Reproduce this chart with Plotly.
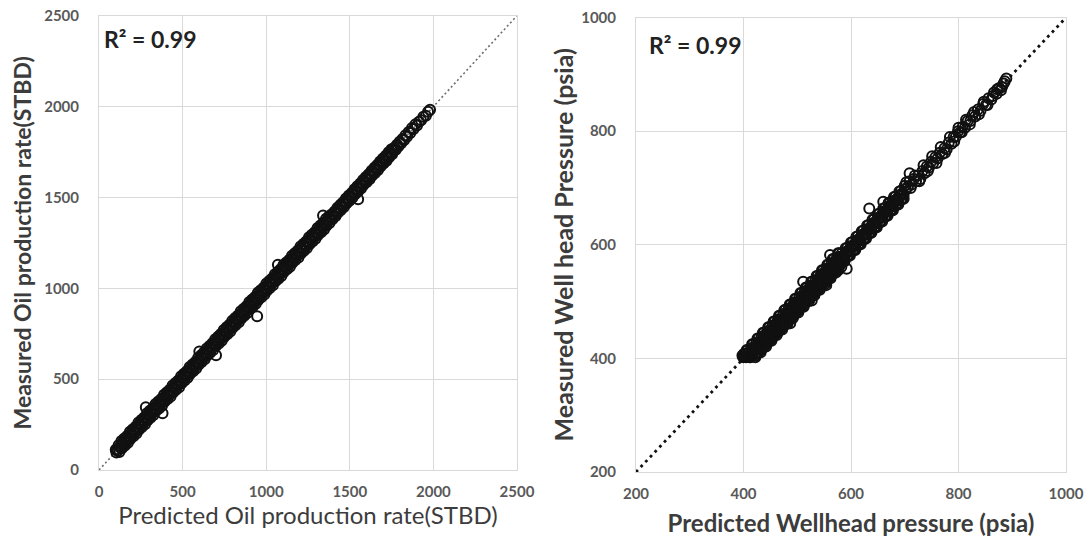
import plotly.graph_objects as go

# ---------------- data ----------------
# Left panel: oil production rate (STBD) - predicted vs measured
pred_oil = [
    100,104,108,112, 117,122,126,130, 134,137,141,145, 151,155,159,163, 168,173,177,181,
    185,188,192,196, 202,206,210,214, 219,224,228,232, 236,239,243,247, 253,257,261,265,
    270,275,279,283, 287,290,294,298, 304,308,312,316, 321,326,330,334, 338,341,345,349,
    355,359,363,367, 372,377,381,385, 389,392,396,400, 406,410,414,418, 423,428,432,436,
    440,443,447,451, 457,461,465,469, 474,479,483,487, 491,494,498,502, 508,512,516,520,
    525,530,534,538, 542,545,549,553, 559,563,567,571, 576,581,585,589, 593,596,600,604,
    610,614,618,622, 627,632,636,640, 644,647,651,655, 661,665,669,673, 678,683,687,691,
    695,698,702,706, 712,716,720,724, 729,734,738,742, 746,749,753,757, 763,767,771,775,
    780,785,789,793, 797,800,804,808, 814,818,822,826, 831,836,840,844, 848,851,855,859,
    865,869,873,877, 882,887,891,895, 899,902,906,910, 916,920,924,928, 933,938,942,946,
    950,953,957,961, 967,971,975,979, 984,989,993,997, 1001,1004,1008,1012, 1018,1022,1026,1030,
    1035,1040,1044,1048, 1052,1055,1059,1063, 1069,1073,1077,1081, 1086,1091,1095,1099, 1103,1106,1110,1114,
    1120,1124,1128,1132, 1137,1142,1146,1150, 1154,1157,1161,1165, 1171,1175,1179,1183, 1188,1193,1197,1201,
    1205,1208,1212,1216, 1222,1226,1230,1234, 1239,1244,1248,1252, 1256,1259,1263,1267, 1273,1277,1281,1285,
    1290,1295,1299,1303, 1307,1310,1314,1318, 1324,1328,1332,1336, 1341,1346,1350,1354, 1358,1361,1365,1369,
    1375,1379,1383,1387, 1392,1396,1400,1404, 1409,1414,1418,1422, 1426,1429,1433,1437, 1443,1447,1451,1455,
    1460,1465,1469,1473, 1477,1480,1484,1488, 1494,1498,1502,1506, 1511,1516,1520,1524, 1528,1531,1535,1539,
    1545,1549,1553,1557, 1562,1567,1571,1575, 1579,1582,1586,1590, 1596,1600,1604,1608, 1613,1618,1622,1626,
    1630,1633,1637,1641, 1647,1651,1655,1659, 1664,1669,1673,1677, 1681,1684,1688,1692, 1698,1702,1706,1710,
    1715,1720,1724,1728, 1732,1735,1739,1743, 1749,1753,1757,1761,
    1768,1775,1782,1790,1798,1806,1815,1824,1833,1842,1852,1862,1872,1882,1892,1902,1914,1926,1940,1955,
    1968,1980,
    280,380,600,700,946,1070,1340,1550]
meas_oil = [
    112,96,114,106, 136,99,131,121, 159,120,152,142, 173,135,167,157, 187,150,182,172,
    210,171,203,193, 224,186,218,208, 238,201,233,223, 261,222,254,244, 275,237,269,259,
    289,252,284,274, 312,273,305,295, 326,288,320,310, 340,303,335,325, 363,324,356,346,
    377,339,371,361, 391,354,386,376, 414,375,407,397, 428,390,422,412, 442,405,437,427,
    465,426,458,448, 479,441,473,463, 493,456,488,478, 516,477,509,499, 530,492,524,514,
    544,507,539,529, 567,528,560,550, 581,543,575,565, 595,558,590,580, 618,579,611,601,
    632,594,626,616, 646,609,641,631, 669,630,662,652, 683,645,677,667, 697,660,692,682,
    720,681,713,703, 734,696,728,718, 748,711,743,733, 771,732,764,754, 785,747,779,769,
    799,762,794,784, 822,783,815,805, 836,798,830,820, 850,813,845,835, 873,834,866,856,
    887,849,881,871, 901,864,896,886, 924,885,917,907, 938,900,932,922, 952,915,947,937,
    975,936,968,958, 989,951,983,973, 1003,966,998,988, 1026,987,1019,1009, 1040,1002,1034,1024,
    1054,1017,1049,1039, 1077,1038,1070,1060, 1091,1053,1085,1075, 1105,1068,1100,1090, 1128,1089,1121,1111,
    1142,1104,1136,1126, 1156,1119,1151,1141, 1179,1140,1172,1162, 1193,1155,1187,1177, 1207,1170,1202,1192,
    1230,1191,1223,1213, 1244,1206,1238,1228, 1258,1221,1253,1243, 1281,1242,1274,1264, 1295,1257,1289,1279,
    1309,1272,1304,1294, 1332,1293,1325,1315, 1346,1308,1340,1330, 1360,1323,1355,1345, 1383,1344,1376,1366,
    1397,1359,1391,1381, 1408,1380,1406,1399, 1423,1396,1421,1417, 1443,1415,1439,1432, 1459,1431,1457,1450,
    1474,1447,1472,1468, 1494,1466,1490,1483, 1510,1482,1508,1501, 1525,1498,1523,1519, 1545,1517,1541,1534,
    1561,1533,1559,1552, 1576,1549,1574,1570, 1596,1568,1592,1585, 1612,1584,1610,1603, 1627,1600,1625,1621,
    1647,1619,1643,1636, 1663,1635,1661,1654, 1678,1651,1676,1672, 1698,1670,1694,1687, 1714,1686,1712,1705,
    1729,1702,1727,1723, 1749,1721,1745,1738, 1765,1737,1763,1756,
    1775,1762,1790,1780,1806,1796,1822,1815,1842,1834,1860,1855,1882,1876,1902,1896,1916,1924,1944,1950,
    1972,1982,
    345,312,652,632,846,1130,1400,1490]

# Right panel: wellhead pressure (psia) - predicted vs measured
pred_whp = [
    398,399,400,401,402, 403,404,405,406,407, 408,409,410,411,412, 413,414,415,416,417,
    418,419,420,421,422, 423,424,425,426,427, 428,429,430,431,432, 433,434,435,436,437,
    438,439,440,441,442, 443,444,445,446,447, 448,449,450,451,452, 453,454,455,456,457,
    458,459,460,461,462, 463,464,465,466,467, 468,469,470,471,472, 473,474,475,476,477,
    478,479,480,481,482, 483,484,485,486,487, 488,489,490,491,492, 493,494,495,496,497,
    498,499,500,501,502, 503,504,505,506,507, 508,509,510,511,512, 513,514,515,516,517,
    518,519,520,521,522, 523,524,525,526,527, 528,529,530,531,532, 533,534,535,536,537,
    538,539,540,541,542, 543,544,545,546,547, 548,549,550,551,552, 553,554,555,556,557,
    558,559,560,561,562, 563,564,565,566,567, 568,569,570,571,572, 573,574,575,576,577,
    578,579,580,581,582,
    583,585,587, 588,590,592, 593,595,597, 598,600,602, 603,605,607, 608,610,612,
    613,615,617, 618,620,622, 623,625,627, 628,630,632, 633,635,637, 638,640,642,
    643,645,647, 648,650,652, 653,655,657, 658,660,662, 663,665,667, 668,670,672,
    673,675,677, 678,680,682, 683,685,687, 688,690,692, 693,695,697, 698,700,702,
    706,709,713,717,721,725,729,733,737,741,745,749,753,757,761,765,770,774,778,782,
    787,791,795,799,803,808,812,817,822,826,831,836,841,846,851,856,861,866,871,876,
    881,886,889,
    420,423,426,428, 430,433,436,438, 440,443,446,448, 450,453,456,458, 460,463,466,468,
    470,473,476,478, 480,483,486,488, 490,493,496,498, 500,503,506,508, 510,513,516,518,
    520,523,526,528, 530,533,536,538, 540,543,546,548, 550,553,556,558, 560,563,566,568,
    570,573,576,578, 580,583,586,588, 590,593,596,598, 600,603,606,608, 610,613,616,618,
    620,623,626,628, 630,633,636,638, 640,643,646,648, 650,653,656,658, 660,663,666,668,
    670,673,676,678, 680,683,686,688, 690,693,696,698,
    703,711,719,727,735,743,751,759,767,775,784,792,800,806,814,821,829,838,847,854,
    864,872,879,884,
    634,561,592,576,554,527,487,511,709,660]
meas_whp = [
    405,403,402,408,404, 403,408,402,415,404, 415,409,403,402,403, 402,418,405,425,414,
    425,419,413,407,402, 405,428,415,435,424, 435,429,423,417,411, 415,438,425,445,434,
    445,439,433,427,421, 425,448,435,455,444, 455,449,443,437,431, 435,458,445,465,454,
    465,459,453,447,441, 445,468,455,475,464, 475,469,463,457,451, 455,478,465,485,474,
    485,479,473,467,461, 465,488,475,495,484, 495,489,483,477,471, 475,498,485,505,494,
    505,499,493,487,481, 485,508,495,515,504, 515,509,503,497,491, 495,518,505,525,514,
    525,519,513,507,501, 505,528,515,535,524, 535,529,523,517,511, 515,538,525,545,534,
    545,539,533,527,521, 525,548,535,555,544, 555,549,543,537,531, 535,558,545,565,554,
    565,559,553,547,541, 545,568,555,575,564, 575,569,563,557,551, 555,578,565,585,574,
    585,579,573,567,561,
    585,579,573, 578,594,588, 595,589,583, 588,604,598, 605,599,593, 598,614,608,
    615,609,603, 608,624,618, 625,619,613, 618,634,628, 635,629,623, 628,644,638,
    645,639,633, 638,654,648, 655,649,643, 648,664,658, 665,659,653, 658,674,668,
    675,669,663, 668,684,678, 685,679,673, 678,694,688, 695,689,683, 688,704,698,
    702,712,706,716,712,722,716,730,726,738,736,746,744,754,752,762,760,770,768,780,
    778,790,790,800,798,808,806,818,818,828,826,838,836,848,846,858,856,868,866,876,
    878,888,893,
    417,409,421,411, 427,419,431,421, 437,429,441,431, 447,439,451,441, 457,449,461,451,
    467,459,471,461, 477,469,481,471, 487,479,491,481, 497,489,501,491, 507,499,511,501,
    517,509,521,511, 527,519,531,521, 537,529,541,531, 547,539,551,541, 557,549,561,551,
    567,559,571,561, 577,569,581,571, 587,579,591,581, 597,589,601,591, 607,599,611,601,
    617,609,621,611, 627,619,631,621, 637,629,641,631, 647,639,651,641, 657,649,661,651,
    667,659,671,661, 677,669,681,671, 687,679,691,681,
    710,700,722,712,740,730,756,744,772,762,790,782,806,798,820,812,834,830,852,846,
    862,874,872,884,
    664,582,558,555,529,502,462,535,726,676]

oil_range = [0, 2500]
whp_range = [200, 1000]
oil_ticks = [0, 500, 1000, 1500, 2000, 2500]
whp_ticks = [200, 400, 600, 800, 1000]
r2_text = "R² = 0.99"

FONT = "Lato"
GRID = "#d9d9d9"
TICKCOL = "#595959"
TITLECOL = "#3c3c3c"

fig = go.Figure()

# reference y = x lines (span the axis ranges)
fig.add_trace(go.Scatter(x=oil_range, y=oil_range, mode="lines",
                         line=dict(color="#6e6e6e", width=1.6, dash="2px,2.6px"),
                         xaxis="x", yaxis="y", showlegend=False, hoverinfo="skip"))
fig.add_trace(go.Scatter(x=whp_range, y=whp_range, mode="lines",
                         line=dict(color="#111111", width=2.8, dash="2.8px,4px"),
                         xaxis="x2", yaxis="y2", showlegend=False, hoverinfo="skip"))

marker = dict(symbol="circle-open", color="#111111", size=10, line=dict(width=2))
fig.add_trace(go.Scatter(x=pred_oil, y=meas_oil, mode="markers", marker=marker,
                         xaxis="x", yaxis="y", showlegend=False))
fig.add_trace(go.Scatter(x=pred_whp, y=meas_whp, mode="markers", marker=marker,
                         xaxis="x2", yaxis="y2", showlegend=False))

W, H = 1088, 538

tickfont = dict(family=FONT, size=15, color=TICKCOL, weight="bold")

def axis(rng, ticks, domain, title, bold, anchor, is_x, standoff, tsize):
    return dict(
        range=rng, tickvals=ticks, domain=domain, anchor=anchor,
        showgrid=True, gridcolor=GRID, gridwidth=1,
        zeroline=False, showline=True, linecolor=GRID, linewidth=1, mirror=True,
        ticks="", ticklabelstandoff=8 if is_x else 16,
        tickfont=tickfont, automargin=False, fixedrange=True,
        title=dict(text=title, standoff=standoff,
                   font=dict(family=FONT, size=tsize, color=TITLECOL,
                             weight="bold" if bold else "normal")),
    )

fig.update_layout(
    width=W, height=H, margin=dict(l=0, r=0, t=0, b=0),
    paper_bgcolor="white", plot_bgcolor="white",
    xaxis=axis(oil_range, oil_ticks, [99 / W, 517 / W],
               "Predicted Oil production rate(STBD)", False, "y", True, 7, 24),
    yaxis=axis(oil_range, oil_ticks, [1 - 470 / H, 1 - 15.7 / H],
               "Measured Oil production rate(STBD)", True, "x", False, 6, 23),
    xaxis2=axis(whp_range, whp_ticks, [636 / W, 1066 / W],
                "Predicted Wellhead pressure (psia)", True, "y2", True, 14, 24),
    yaxis2=axis(whp_range, whp_ticks, [1 - 472 / H, 1 - 17.6 / H],
                "Measured Well head Pressure (psia)", True, "x2", False, 0, 25),
    annotations=[
        dict(text=r2_text, x=18, y=2374, xref="x", yref="y", xanchor="left", yanchor="middle",
             showarrow=False, font=dict(family=FONT, size=23, color="#222222", weight="bold")),
        dict(text=r2_text, x=220, y=951, xref="x2", yref="y2", xanchor="left", yanchor="middle",
             showarrow=False, font=dict(family=FONT, size=23, color="#222222", weight="bold")),
    ],
)

fig.write_html("out.html")
